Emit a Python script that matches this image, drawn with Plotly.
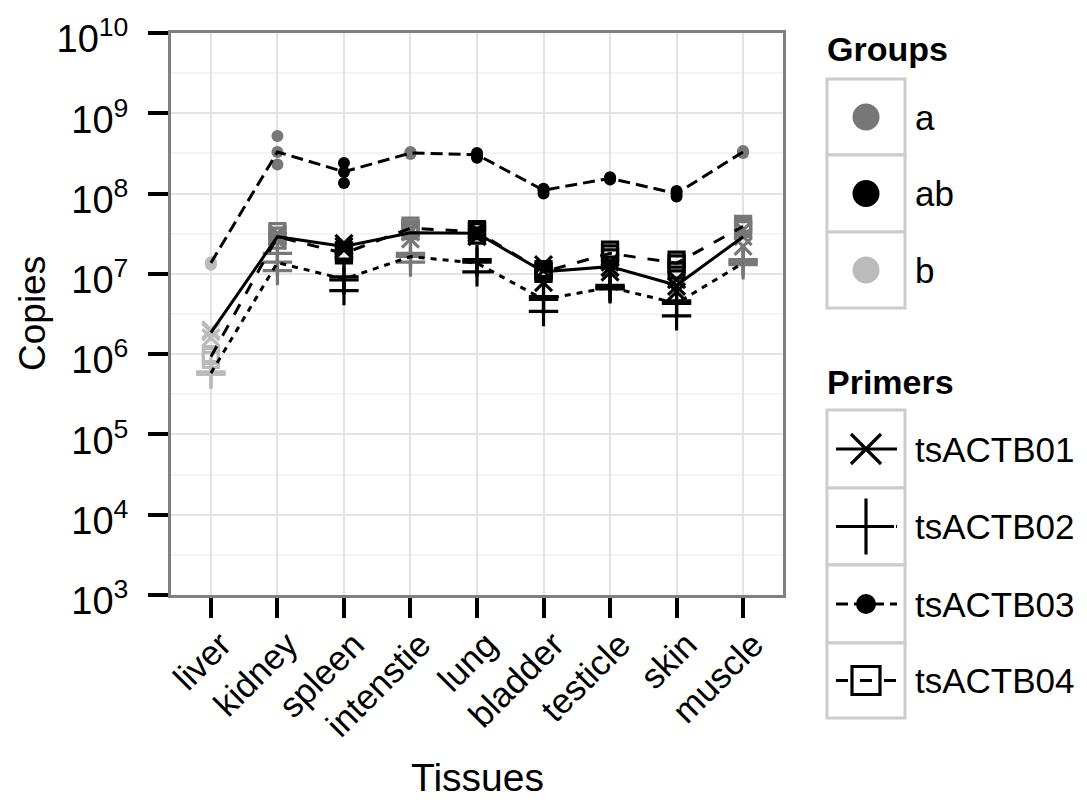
import plotly.graph_objects as go

# reference canvas size and page offset (default body margin of the html page)
W, H = 1087, 807
OFF = 8
FW, FH = W - OFF, H - OFF

tissues = ["liver", "kidney", "spleen", "intenstie", "lung", "bladder", "testicle", "skin", "muscle"]
tissue_group = ["b", "a", "ab", "a", "ab", "ab", "ab", "ab", "a"]
groups = ["a", "ab", "b"]
group_colors = {"a": "#777777", "ab": "#000000", "b": "#bbbbbb"}

primers = ["tsACTB01", "tsACTB02", "tsACTB03", "tsACTB04"]

# mean copies per tissue (line values)
mean_01 = [1.85e6, 2.9e7, 2.2e7, 3.25e7, 3.2e7, 1.06e7, 1.23e7, 7.2e6, 2.9e7]
mean_02 = [5.8e5, 1.38e7, 8.6e6, 1.64e7, 1.36e7, 4.8e6, 6.8e6, 4.3e6, 1.36e7]
mean_03 = [1.37e7, 3.3e8, 1.87e8, 3.2e8, 3.05e8, 1.1e8, 1.55e8, 1.0e8, 3.3e8]
mean_04 = [9.3e5, 2.9e7, 1.8e7, 3.7e7, 3.35e7, 1.06e7, 1.8e7, 1.36e7, 3.9e7]

# replicate measurements per tissue
reps_01 = [[1.6e6, 1.9e6, 2.0e6], [2.6e7, 2.9e7, 3.2e7], [2.0e7, 2.2e7, 2.4e7],
           [2.7e7, 3.3e7, 3.7e7], [2.9e7, 3.2e7, 3.5e7], [7.8e6, 1.1e7, 1.3e7],
           [1.05e7, 1.2e7, 1.4e7], [6.0e6, 7.0e6, 8.5e6], [2.2e7, 2.9e7, 3.5e7]]
reps_02 = [[5.6e5, 5.8e5, 6.0e5], [1.1e7, 1.4e7, 1.8e7], [6.2e6, 8.4e6, 9.2e6],
           [1.4e7, 1.65e7, 1.8e7], [1.06e7, 1.4e7, 1.5e7], [3.4e6, 4.8e6, 5.2e6],
           [6.5e6, 6.8e6, 7.2e6], [3.0e6, 4.3e6, 4.6e6], [1.3e7, 1.4e7, 1.5e7]]
reps_03 = [[1.3e7, 1.35e7, 1.4e7], [2.3e8, 3.3e8, 5.2e8], [1.35e8, 1.85e8, 2.4e8],
           [3.1e8, 3.2e8, 3.3e8], [2.8e8, 3.0e8, 3.2e8], [1.0e8, 1.1e8, 1.15e8],
           [1.5e8, 1.55e8, 1.6e8], [0.92e8, 1.0e8, 1.08e8], [3.2e8, 3.3e8, 3.4e8]]
reps_04 = [[8.5e5, 9.5e5, 1.0e6], [2.6e7, 3.0e7, 3.4e7], [1.7e7, 1.8e7, 1.9e7],
           [3.4e7, 3.7e7, 4.0e7], [3.0e7, 3.4e7, 3.6e7], [1.0e7, 1.06e7, 1.15e7],
           [1.6e7, 1.8e7, 2.0e7], [1.1e7, 1.35e7, 1.5e7], [3.6e7, 3.9e7, 4.2e7]]

y_tickvals = [1e3, 1e4, 1e5, 1e6, 1e7, 1e8, 1e9, 1e10]
y_ticktext = ["10<sup>3</sup>", "10<sup>4</sup>", "10<sup>5</sup>", "10<sup>6</sup>",
              "10<sup>7</sup>", "10<sup>8</sup>", "10<sup>9</sup>", "10<sup>10</sup>"]

means = [mean_01, mean_02, mean_03, mean_04]
reps = [reps_01, reps_02, reps_03, reps_04]
dashes = ["solid", "6px,6px", "12px,6px", "12px,12px"]
symbols = ["x-thin-open", "cross-thin-open", "circle", "square-open"]
sizes = [17, 21, 12, 15]
leg_sizes = [30, 40, 20, 28]

FONT = "Liberation Sans, Arial, sans-serif"


def px(x):
    return (x - OFF) / FW


def py(y):
    return 1 - (y - OFF) / FH


fig = go.Figure()

# replicate points
for p, r, sym, sz in zip(primers, reps, symbols, sizes):
    xs, ys, cs = [], [], []
    for t, g, vals in zip(tissues, tissue_group, r):
        for v in vals:
            xs.append(t)
            ys.append(v)
            cs.append(group_colors[g])
    if sym == "circle":
        marker = dict(symbol=sym, size=sz, color=cs, line=dict(width=0))
    else:
        marker = dict(symbol=sym, size=sz, color=cs, line=dict(width=3.2, color=cs))
    fig.add_trace(go.Scatter(x=xs, y=ys, mode="markers", marker=marker,
                             showlegend=False, xaxis="x", yaxis="y"))

# mean lines
for p, m, d in zip(primers, means, dashes):
    fig.add_trace(go.Scatter(x=tissues, y=m, mode="lines",
                             line=dict(color="black", width=3, dash=d),
                             showlegend=False, xaxis="x", yaxis="y"))

# ---- custom legend (screen pixel coordinates on an overlay axis) ----
shapes = []
annotations = []
box_x0, box_x1 = 827, 905
key_cx = 866
lab_x = 913

group_box_edges = [79, 155, 232, 308]
for i, g in enumerate(groups):
    y0, y1 = group_box_edges[i], group_box_edges[i + 1]
    shapes.append(dict(type="rect", xref="x2", yref="y2", x0=box_x0, x1=box_x1, y0=y0, y1=y1,
                       line=dict(color="#cccccc", width=3), fillcolor="white", layer="below"))
    cy = (y0 + y1) / 2
    fig.add_trace(go.Scatter(x=[key_cx], y=[cy], mode="markers",
                             marker=dict(symbol="circle", size=27, color=group_colors[g]),
                             showlegend=False, xaxis="x2", yaxis="y2", hoverinfo="skip"))
    annotations.append(dict(xref="x2", yref="y2", x=lab_x, y=cy, text=g, showarrow=False,
                            xanchor="left", yanchor="middle", font=dict(size=35, color="black", family=FONT)))

primer_box_edges = [410, 488, 565, 643, 718]
for i, p in enumerate(primers):
    y0, y1 = primer_box_edges[i], primer_box_edges[i + 1]
    shapes.append(dict(type="rect", xref="x2", yref="y2", x0=box_x0, x1=box_x1, y0=y0, y1=y1,
                       line=dict(color="#cccccc", width=3), fillcolor="white", layer="below"))
    cy = (y0 + y1) / 2
    fig.add_trace(go.Scatter(x=[836, 897], y=[cy, cy], mode="lines",
                             line=dict(color="black", width=3.2, dash=dashes[i]),
                             showlegend=False, xaxis="x2", yaxis="y2", hoverinfo="skip"))
    if symbols[i] == "circle":
        mk = dict(symbol="circle", size=leg_sizes[i], color="black")
    else:
        mk = dict(symbol=symbols[i], size=leg_sizes[i], color="black",
                  line=dict(width=3.2, color="black"))
    fig.add_trace(go.Scatter(x=[key_cx], y=[cy], mode="markers", marker=mk,
                             showlegend=False, xaxis="x2", yaxis="y2", hoverinfo="skip"))
    annotations.append(dict(xref="x2", yref="y2", x=lab_x, y=cy, text=p, showarrow=False,
                            xanchor="left", yanchor="middle", font=dict(size=35, color="black", family=FONT)))

annotations.append(dict(xref="x2", yref="y2", x=825, y=49, text="<b>Groups</b>", showarrow=False,
                        xanchor="left", yanchor="middle", font=dict(size=34, color="black", family=FONT)))
annotations.append(dict(xref="x2", yref="y2", x=825, y=382, text="<b>Primers</b>", showarrow=False,
                        xanchor="left", yanchor="middle", font=dict(size=34, color="black", family=FONT)))

# axis titles
annotations.append(dict(xref="x2", yref="y2", x=32, y=314, text="Copies",
                        showarrow=False, textangle=-90, xanchor="center", yanchor="middle",
                        font=dict(size=37, color="black", family=FONT)))
annotations.append(dict(xref="x2", yref="y2", x=477, y=777, text="Tissues",
                        showarrow=False, xanchor="center", yanchor="middle",
                        font=dict(size=39, color="black", family=FONT)))

fig.update_layout(
    width=FW, height=FH,
    margin=dict(l=0, r=0, t=0, b=0),
    paper_bgcolor="white",
    plot_bgcolor="rgba(0,0,0,0)",
    font=dict(family=FONT, color="black"),
    showlegend=False,
    shapes=shapes,
    annotations=annotations,
    xaxis=dict(
        domain=[px(171), px(783)], type="category", categoryorder="array", categoryarray=tissues,
        range=[-0.6, 8.6], anchor="y",
        showgrid=True, gridcolor="#e3e3e3", gridwidth=2,
        showline=True, linecolor="#808080", linewidth=3, mirror=True,
        ticks="outside", ticklen=20, tickwidth=4, tickcolor="black",
        tickangle=-45, tickfont=dict(size=35, color="black", family=FONT),
        ticklabelstandoff=-8, ticklabelshift=10,
        zeroline=False, automargin=False, fixedrange=True,
    ),
    yaxis=dict(
        domain=[py(595), py(33)], type="log", range=[3, 10], anchor="x",
        tickmode="array", tickvals=y_tickvals, ticktext=y_ticktext,
        showgrid=True, gridcolor="#e3e3e3", gridwidth=2,
        minor=dict(tickmode="array", tickvals=[10 ** (n + 0.5) for n in range(3, 10)],
                   showgrid=True, gridcolor="#f4f4f4", gridwidth=2, ticks=""),
        showline=True, linecolor="#808080", linewidth=3, mirror=True,
        ticks="outside", ticklen=20, tickwidth=4, tickcolor="black",
        tickfont=dict(size=38, color="black", family=FONT),
        ticklabelstandoff=12, ticklabelshift=6, ticklabeloverflow="allow",
        zeroline=False, automargin=False, fixedrange=True,
    ),
    xaxis2=dict(domain=[0, 1], range=[OFF, W], anchor="y2", visible=False, fixedrange=True),
    yaxis2=dict(domain=[0, 1], range=[H, OFF], anchor="x2", visible=False, fixedrange=True),
)

fig.write_html("out.html")
